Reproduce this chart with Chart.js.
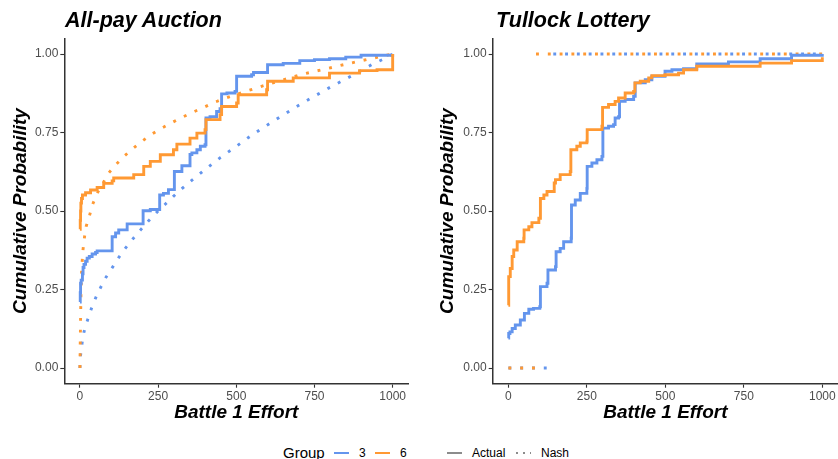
<!DOCTYPE html>
<html>
<head>
<meta charset="utf-8">
<script src="https://cdn.jsdelivr.net/npm/chart.js@4.4.1/dist/chart.umd.min.js"></script>
<style>
  html, body { margin: 0; padding: 0; background: #fff; }
  body { width: 838px; height: 459px; position: relative; overflow: hidden;
         font-family: 'Liberation Sans', Arial, Helvetica, sans-serif; }
  canvas { position: absolute; top: 0; }
  .ptitle { position: absolute; top: 10px; font-style: italic; font-weight: bold;
            font-size: 21.5px; line-height: 20px; color: #000; white-space: nowrap; }
  .leg { position: absolute; white-space: nowrap; color: #000; }
  .legtxt { font-size: 12px; line-height: 14px; top: 446px; }
  .legtitle { font-size: 15px; line-height: 18px; top: 444px; left: 283px; }
  .key { position: absolute; top: 452px; width: 15px; height: 1.6px; }
  .dots { background: repeating-linear-gradient(to right, #8c8c8c 0 2px, transparent 2px 7px); height: 2px; }
</style>
</head>
<body>
<canvas id="auction" width="420" height="430" style="left:0"></canvas>
<canvas id="lottery" width="418" height="430" style="left:420px"></canvas>
<div class="ptitle" style="left:65px">All-pay Auction</div>
<div class="ptitle" style="left:496px">Tullock Lottery</div>

<div class="leg legtitle">Group</div>
<div class="key" style="left:334px;background:#6495ED"></div>
<div class="leg legtxt" style="left:359px">3</div>
<div class="key" style="left:375px;background:#FF9933"></div>
<div class="leg legtxt" style="left:400px">6</div>
<div class="key" style="left:447px;background:#8c8c8c"></div>
<div class="leg legtxt" style="left:472px">Actual</div>
<div class="key dots" style="left:516px"></div>
<div class="leg legtxt" style="left:541px">Nash</div>

<script>
// Tick values shared by both panels
const effortTicks = [0, 250, 500, 750, 1000];
const probTicks = [0, 0.25, 0.5, 0.75, 1];

// All-pay auction, group 3: empirical CDF of battle 1 effort
const auction3Effort = [0, 1, 2, 4, 8, 10, 13, 18, 23, 30, 39, 50, 55, 103, 114, 124, 151, 202, 225, 255, 267, 283, 302, 326, 352, 358, 374, 385, 400, 403, 416, 437, 448, 453, 470, 496, 501, 549, 555, 600, 650, 703, 750, 798, 850, 899, 1000];
const auction3Cdf    = [0.21, 0.24, 0.27, 0.28, 0.30, 0.32, 0.33, 0.34, 0.35, 0.355, 0.363, 0.368, 0.373, 0.418, 0.43, 0.44, 0.459, 0.501, 0.505, 0.551, 0.556, 0.568, 0.626, 0.644, 0.68, 0.685, 0.695, 0.706, 0.711, 0.796, 0.80, 0.817, 0.826, 0.873, 0.876, 0.881, 0.929, 0.934, 0.941, 0.966, 0.970, 0.979, 0.982, 0.985, 0.99, 0.996, 1.0];

// All-pay auction, group 6: empirical CDF of battle 1 effort
const auction6Effort = [0, 1, 2, 3, 5, 8, 18, 34, 55, 76, 103, 108, 172, 204, 225, 257, 299, 310, 352, 374, 400, 403, 448, 453, 501, 506, 597, 600, 682, 798, 894, 950, 1000];
const auction6Cdf    = [0.442, 0.47, 0.50, 0.525, 0.54, 0.551, 0.558, 0.567, 0.575, 0.588, 0.596, 0.605, 0.616, 0.642, 0.658, 0.679, 0.695, 0.713, 0.732, 0.748, 0.759, 0.791, 0.807, 0.833, 0.844, 0.870, 0.886, 0.913, 0.924, 0.939, 0.947, 0.950, 1.0];

// All-pay auction, equilibrium CDFs
const auction3NashEffort = [0, 2, 7, 13, 25, 37, 51, 67, 84, 105, 125, 145, 170, 194, 219, 244, 271, 298, 326, 353, 400, 450, 503, 550, 626, 700, 754, 800, 885, 940, 985, 1000];
const auction3NashCdf    = [0, 0.04, 0.08, 0.115, 0.155, 0.19, 0.225, 0.258, 0.29, 0.322, 0.353, 0.381, 0.412, 0.44, 0.468, 0.494, 0.52, 0.546, 0.571, 0.594, 0.632, 0.671, 0.708, 0.742, 0.791, 0.837, 0.868, 0.894, 0.939, 0.97, 0.99, 1.0];
const auction6NashEffort = [0, 1, 2, 3, 5, 9, 15, 20, 31, 41, 55, 92, 117, 143, 171, 201, 230, 262, 295, 328, 362, 396, 430, 465, 536, 600, 713, 788, 861, 934, 1000];
const auction6NashCdf    = [0, 0.08, 0.15, 0.22, 0.30, 0.37, 0.42, 0.451, 0.487, 0.522, 0.556, 0.621, 0.65, 0.676, 0.70, 0.724, 0.745, 0.764, 0.782, 0.799, 0.815, 0.83, 0.846, 0.859, 0.883, 0.903, 0.936, 0.953, 0.970, 0.986, 1.0];

// Tullock lottery, group 3: empirical CDF of battle 1 effort
const lottery3Effort = [0, 1, 5, 12, 22, 38, 51, 65, 80, 100, 102, 123, 126, 150, 152, 165, 176, 200, 201, 213, 229, 250, 251, 266, 282, 298, 301, 319, 335, 340, 351, 354, 372, 399, 404, 436, 457, 499, 521, 558, 600, 701, 802, 902, 1000];
const lottery3Cdf    = [0.095, 0.11, 0.115, 0.126, 0.137, 0.153, 0.174, 0.187, 0.19, 0.195, 0.259, 0.27, 0.312, 0.323, 0.37, 0.381, 0.402, 0.413, 0.519, 0.535, 0.556, 0.572, 0.642, 0.653, 0.663, 0.674, 0.764, 0.77, 0.775, 0.796, 0.80, 0.849, 0.855, 0.865, 0.908, 0.918, 0.929, 0.945, 0.95, 0.953, 0.968, 0.975, 0.985, 0.996, 1.0];

// Tullock lottery, group 6: empirical CDF of battle 1 effort
const lottery6Effort = [0, 1, 6, 12, 17, 28, 49, 50, 65, 75, 97, 102, 113, 123, 146, 150, 165, 197, 199, 218, 229, 250, 251, 298, 300, 319, 340, 351, 372, 399, 403, 420, 447, 457, 499, 542, 558, 600, 802, 902, 1000];
const lottery6Cdf    = [0.20, 0.291, 0.317, 0.355, 0.376, 0.402, 0.413, 0.44, 0.45, 0.463, 0.477, 0.54, 0.551, 0.562, 0.589, 0.60, 0.616, 0.626, 0.695, 0.706, 0.717, 0.722, 0.759, 0.77, 0.83, 0.839, 0.849, 0.86, 0.876, 0.881, 0.908, 0.913, 0.924, 0.931, 0.934, 0.939, 0.95, 0.961, 0.971, 0.979, 0.99];

// Tullock lottery, equilibrium: pure strategies (CDF jumps from 0 to 1)
const lottery3NashEffort = 143;
const lottery6NashEffort = 88;

const BLUE = '#6495ED';
const ORANGE = '#FF9933';
const AXIS = '#333333';
const TEXT = '#4d4d4d';
const FONT = "'Liberation Sans', Arial, Helvetica, sans-serif";

Chart.defaults.font.family = FONT;

function pairs(xs, ys) {
  return xs.map((x, i) => ({ x: x, y: ys[i] }));
}
function pureNash(effort) {
  return [{ x: 0, y: 0 }, { x: effort, y: 0 }, { x: effort, y: null }, { x: effort, y: 1 }, { x: 1000, y: 1 }];
}

// Chart.js paints the first dataset on top, so lists below run top layer first.
function actualSet(data, color) {
  return { data: data, borderColor: color, borderWidth: 2.9, stepped: true,
           pointRadius: 0, fill: false, borderCapStyle: 'butt', borderJoinStyle: 'miter' };
}
function nashSet(data, color) {
  return { data: data, borderColor: color, borderWidth: 2.9, borderDash: [2.9, 8.9],
           borderCapStyle: 'butt', pointRadius: 0, fill: false, tension: 0 };
}

function makeChart(id, datasets, yWidth, yTitlePad, rightPad) {
  return new Chart(document.getElementById(id), {
    type: 'line',
    data: { datasets: datasets },
    options: {
      responsive: false,
      animation: false,
      devicePixelRatio: 1,
      spanGaps: false,
      layout: { padding: { top: 38.3, right: rightPad, bottom: 0, left: 0 } },
      plugins: { legend: { display: false }, tooltip: { enabled: false }, title: { display: false } },
      scales: {
        x: {
          type: 'linear', min: -50, max: 1050,
          afterBuildTicks: s => { s.ticks = effortTicks.map(v => ({ value: v })); },
          afterFit: s => { s.height = 46.3; },
          grid: { display: true, drawOnChartArea: false, drawTicks: true, tickLength: 4, tickColor: AXIS, tickWidth: 1.1 },
          border: { display: true, color: AXIS, width: 1.5 },
          ticks: { color: TEXT, font: { size: 12 }, padding: 2, maxRotation: 0, autoSkip: false,
                   callback: v => String(v) },
          title: { display: true, text: 'Battle 1 Effort', color: '#000',
                   font: { size: 19, weight: 'bold', style: 'italic' }, padding: { top: 0, bottom: 5.9 } }
        },
        y: {
          type: 'linear', min: -0.05, max: 1.05,
          afterBuildTicks: s => { s.ticks = probTicks.map(v => ({ value: v })); },
          afterFit: s => { s.width = yWidth; },
          grid: { display: true, drawOnChartArea: false, drawTicks: true, tickLength: 4, tickColor: AXIS, tickWidth: 1.1 },
          border: { display: true, color: AXIS, width: 1.5 },
          ticks: { color: TEXT, font: { size: 12 }, padding: 2, autoSkip: false,
                   callback: v => Number(v).toFixed(2) },
          title: { display: true, text: 'Cumulative Probability', color: '#000',
                   font: { size: 19, weight: 'bold', style: 'italic' }, padding: { top: yTitlePad, bottom: 0 } }
        }
      }
    }
  });
}

makeChart('auction', [
  actualSet(pairs(auction6Effort, auction6Cdf), ORANGE),
  actualSet(pairs(auction3Effort, auction3Cdf), BLUE),
  nashSet(pairs(auction6NashEffort, auction6NashCdf), ORANGE),
  nashSet(pairs(auction3NashEffort, auction3NashCdf), BLUE)
], 64.3, 9.6, 11.7);

makeChart('lottery', [
  actualSet(pairs(lottery6Effort, lottery6Cdf), ORANGE),
  actualSet(pairs(lottery3Effort, lottery3Cdf), BLUE),
  nashSet(pureNash(lottery6NashEffort), ORANGE),
  nashSet(pureNash(lottery3NashEffort), BLUE)
], 72.7, 16.4, 0);
</script>
</body>
</html>
